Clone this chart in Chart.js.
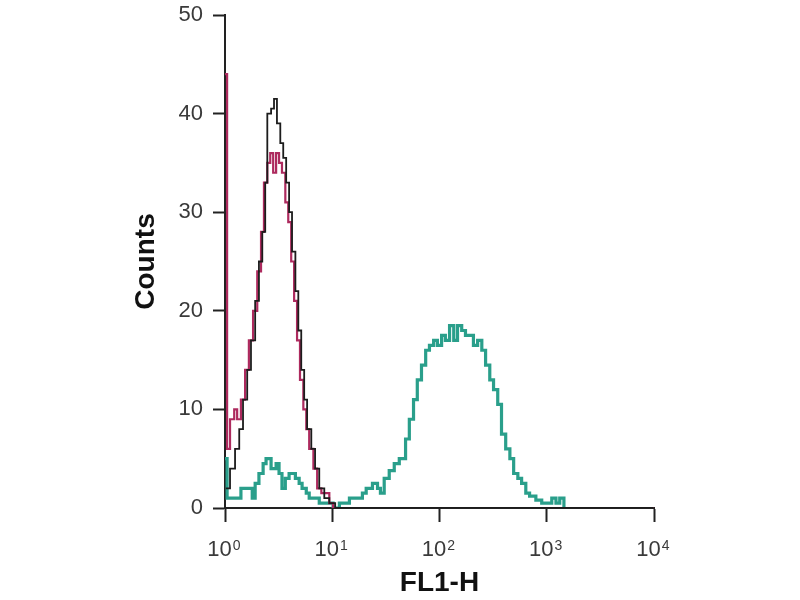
<!DOCTYPE html>
<html>
<head>
<meta charset="utf-8">
<script src="https://cdn.jsdelivr.net/npm/chart.js@4/dist/chart.umd.min.js"></script>
<style>
  html, body { margin: 0; padding: 0; background: #fff; }
</style>
</head>
<body>
<canvas id="c" width="800" height="600"></canvas>
<script>
// FL1-H in channels (1024 channels over 4 log decades) and event counts per series
const blackCh = [2, 12, 24, 34, 43, 53, 62, 72, 81, 89, 96, 101, 110, 117, 124, 132, 139, 146, 153, 160, 168, 175, 182, 189, 196, 206, 215, 225, 237, 249, 263, 1023]
const blackCounts = [2, 4, 6, 8, 11, 14, 17, 21, 25, 28, 33, 40, 40.5, 41.5, 39, 37, 35.5, 33, 30, 26, 22, 18, 14, 11, 8, 6, 4, 2, 1, 0.5, 0, 0]

const magentaCh = [0, 5, 12, 22, 29, 38, 48, 57, 67, 77, 86, 93, 101, 108, 115, 122, 129, 136, 144, 151, 158, 165, 172, 179, 187, 194, 201, 211, 220, 230, 239, 249, 258, 1023]
const magentaCounts = [44, 6, 9, 10, 9, 11, 14, 17, 20, 24, 28, 33, 35, 36, 34, 36, 35, 34, 31, 29, 25, 21, 17, 13, 10, 8, 6, 4, 2, 1.5, 1.5, 0.5, 0, 0]

const tealCh = [0, 5, 34, 38, 57, 65, 72, 81, 91, 98, 110, 122, 129, 136, 144, 153, 168, 177, 184, 194, 201, 225, 249, 258, 273, 297, 316, 328, 337, 352, 364, 371, 380, 392, 404, 416, 424, 431, 440, 450, 459, 469, 479, 488, 498, 507, 517, 526, 536, 546, 555, 565, 574, 584, 593, 603, 613, 622, 632, 641, 651, 660, 670, 680, 689, 699, 708, 718, 727, 742, 756, 771, 780, 790, 799, 809]
const tealCounts = [5, 1, 1, 2, 2, 1, 2.5, 3.5, 4.5, 5, 4, 4.5, 3.5, 2, 3, 3.5, 3, 2.5, 2, 1.5, 1, 0.5, 0.5, 0, 0.5, 1, 1, 1.5, 2, 2.5, 2, 1.5, 3, 3.8, 4.5, 5, 5, 7, 9, 11, 13, 14.5, 16, 16.5, 17, 16.5, 17.5, 17, 18.5, 17, 18.5, 18, 17.5, 17.5, 16.5, 17, 16, 14.5, 13, 12, 10.5, 7.5, 6, 5, 3.5, 3, 2.5, 1.5, 1.2, 0.8, 0.5, 0.5, 1, 0.5, 1, 0]

const xTicks = [1, 10, 100, 1000, 10000]
const xTickExponents = ['0', '1', '2', '3', '4']

const toFL = ch => Math.pow(10, ch / 256)
const points = (ch, counts) => ch.map((c, i) => ({ x: toFL(c), y: counts[i] }))

const fontFamily = "'Liberation Sans', Arial, sans-serif"
const tickFont = { family: fontFamily, size: 22 }
const titleFont = { family: fontFamily, size: 28, weight: 'bold' }
const xTickBase = '10\u2002'   // trailing space leaves room for the exponent

// draws the small raised exponent after each "10" on the x axis
const exponents = {
  id: 'exponents',
  afterDraw(chart) {
    const scale = chart.scales.x
    const c = chart.ctx
    c.save()
    c.font = `${tickFont.size}px ${fontFamily}`
    const wFull = c.measureText(xTickBase).width
    const w10 = c.measureText('10').width
    c.font = `14px ${fontFamily}`
    c.fillStyle = '#3a3a3a'
    c.textAlign = 'left'
    c.textBaseline = 'top'
    xTicks.forEach((v, i) => {
      const px = scale.getPixelForValue(v)
      c.fillText(xTickExponents[i], px - wFull / 2 + w10 + 1, scale.top + 31)
    })
    c.restore()
  }
}

const ctx = document.getElementById('c').getContext('2d')
new Chart(ctx, {
  type: 'line',
  data: {
    datasets: [
      { data: points(blackCh, blackCounts), borderColor: '#1c1c1c', borderWidth: 1.8 },
      { data: points(magentaCh, magentaCounts), borderColor: '#ad2a5e', borderWidth: 2.2 },
      { data: points(tealCh, tealCounts), borderColor: '#2a9f8b', borderWidth: 3.2 }
    ]
  },
  plugins: [exponents],
  options: {
    responsive: false,
    animation: false,
    parsing: false,
    layout: { padding: { left: 0, right: 146, top: 15, bottom: 0 } },
    elements: {
      point: { radius: 0 },
      line: { stepped: true, fill: false }
    },
    plugins: { legend: { display: false }, tooltip: { enabled: false } },
    scales: {
      x: {
        type: 'logarithmic',
        min: 1,
        max: 10000,
        afterBuildTicks: scale => { scale.ticks = xTicks.map(v => ({ value: v })) },
        afterFit: scale => { scale.height = 92 },
        ticks: {
          color: '#3a3a3a',
          font: tickFont,
          padding: 15,
          maxRotation: 0,
          autoSkip: false,
          callback: () => xTickBase
        },
        grid: { drawOnChartArea: false, tickLength: 14, color: '#222', tickWidth: 2 },
        border: { color: '#222', width: 2 },
        title: { display: true, text: 'FL1-H', color: '#111', font: titleFont, padding: { top: -2, bottom: 0 } }
      },
      y: {
        min: 0,
        max: 50,
        afterFit: scale => {
          scale.width = 225
          scale.paddingTop = 0
          scale.paddingBottom = 0
        },
        ticks: { stepSize: 10, color: '#3a3a3a', font: tickFont, padding: 10 },
        grid: { drawOnChartArea: false, tickLength: 12, color: '#222', tickWidth: 2 },
        border: { color: '#222', width: 2 },
        title: { display: true, text: 'Counts', color: '#111', font: titleFont, padding: { top: 129, bottom: 0 } }
      }
    }
  }
})
</script>
</body>
</html>
